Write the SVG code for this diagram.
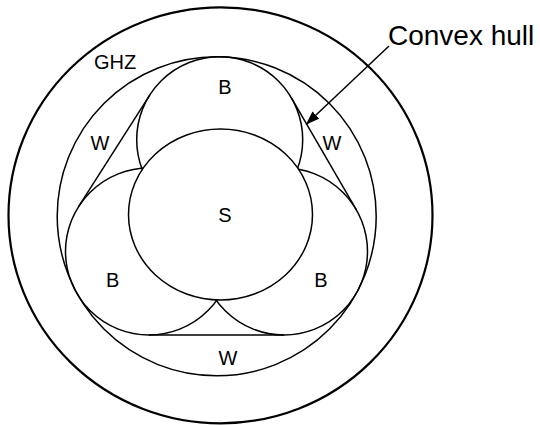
<svg xmlns="http://www.w3.org/2000/svg" width="540" height="425" viewBox="0 0 540 425">
<style>
.c{fill:none;stroke:#000;stroke-width:1.5}
.o{fill:none;stroke:#000;stroke-width:2.2}
.s{fill:#fff;stroke:#000;stroke-width:1.5}
.l{stroke:#000;stroke-width:1.5;fill:none}
text{font-family:"Liberation Sans",Arial,sans-serif;font-size:20px;fill:#000;text-anchor:middle}
.big{font-size:28px;text-anchor:start}
</style>
<defs>
<marker id="ah" markerWidth="14" markerHeight="10" refX="13" refY="5" orient="auto" markerUnits="userSpaceOnUse">
<path d="M0,0 L14,5 L0,10 Z" fill="#000"/>
</marker>
</defs>
<rect width="540" height="425" fill="#fff"/>
<g id="outer"><ellipse class="o" cx="220.5" cy="215.3" rx="212" ry="208"/></g>
<g id="ghz"><circle class="c" cx="216.7" cy="216.3" r="159.5"/><text x="115" y="69">GHZ</text></g>
<g id="b-top"><circle class="c" cx="219.7" cy="139.7" r="83"/></g>
<g id="b-left"><circle class="c" cx="149" cy="251.5" r="83.5"/></g>
<g id="b-right"><circle class="c" cx="284" cy="251.5" r="83.5"/></g>
<g id="hull">
<line class="l" x1="149.6" y1="95.4" x2="78.4" y2="206.9"/>
<line class="l" x1="291.7" y1="98.4" x2="356.4" y2="209.9"/>
<line class="l" x1="149" y1="335" x2="284" y2="335"/>
</g>
<g id="s"><ellipse class="s" cx="220.5" cy="214.5" rx="92" ry="85.5"/><text x="225" y="221.5">S</text></g>
<g id="labels">
<text x="225" y="94">B</text>
<text x="112.7" y="286.5">B</text>
<text x="321" y="286.5">B</text>
<text x="100" y="150">W</text>
<text x="332" y="150">W</text>
<text x="228" y="365">W</text>
</g>
<g id="connectors">
<line class="l" x1="389" y1="46" x2="306.5" y2="124" marker-end="url(#ah)"/>
</g>
<g id="callout"><text class="big" x="388" y="45">Convex hull</text></g>
</svg>
